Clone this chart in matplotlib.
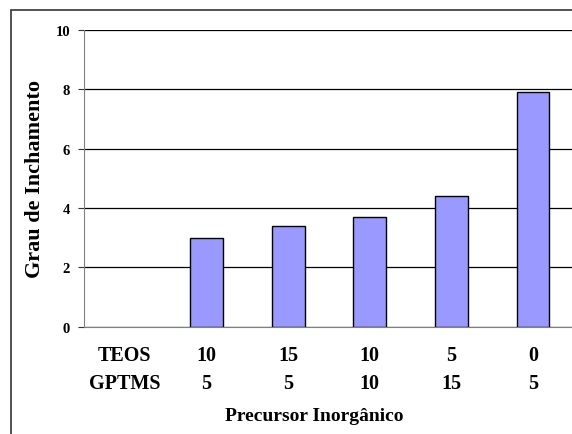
import matplotlib.pyplot as plt
from matplotlib.patches import Rectangle

# dados do ensaio de inchamento
teos = ["TEOS", "10", "15", "10", "5", "0"]
gptms = ["GPTMS", "5", "5", "10", "15", "5"]
grau = [3.0, 3.4, 3.7, 4.4, 7.9]   # sem barra na primeira coluna (cabeçalho)
yticks = [0, 2, 4, 6, 8, 10]

BAR_COLOR = "#9999FF"
FONT = "Liberation Serif"

fig = plt.figure(figsize=(5.72, 4.35), dpi=100)
ax = fig.add_axes([84 / 572, 0.2471, 490 / 572, 0.6816])

# moldura externa do gráfico
fig.patches.append(Rectangle((11 / 572, -0.05), 1.0, 1 - 11 / 435 + 0.05,
                             transform=fig.transFigure, fill=False,
                             edgecolor="#333333", linewidth=1.2))

pos = list(range(1, len(grau) + 1))
ax.bar(pos, grau, width=0.4, color=BAR_COLOR, edgecolor="black",
       linewidth=1.0, zorder=3)

ax.set_xlim(-0.5, 5.5)
ax.set_ylim(0, 10)
ax.set_yticks(yticks)
ax.set_yticklabels([str(v) for v in yticks], fontfamily=FONT,
                   fontweight="bold", fontsize=10.5)
ax.yaxis.grid(True, color="black", linewidth=0.9, zorder=1)
ax.set_axisbelow(True)

ax.set_xticks([])
for i, (a, b) in enumerate(zip(teos, gptms)):
    ax.text(i, -0.95, a, ha="center", va="center", fontfamily=FONT,
            fontweight="bold", fontsize=14.5)
    ax.text(i, -1.9, b, ha="center", va="center", fontfamily=FONT,
            fontweight="bold", fontsize=14.5)

for s in ["top", "right"]:
    ax.spines[s].set_visible(False)
ax.spines["left"].set_color("#808080")
ax.spines["bottom"].set_color("#808080")
ax.tick_params(axis="y", direction="out", length=4, color="#333333", pad=6)

fig.text(35 / 572, 1 - 179 / 435, "Grau de Inchamento", rotation=90,
         ha="center", va="center", fontfamily=FONT, fontweight="bold",
         fontsize=16)
fig.text(314 / 572, 1 - 417 / 435, "Precursor Inorgânico", ha="center",
         va="center", fontfamily=FONT, fontweight="bold", fontsize=14)

fig.savefig("out.png", dpi=100)
